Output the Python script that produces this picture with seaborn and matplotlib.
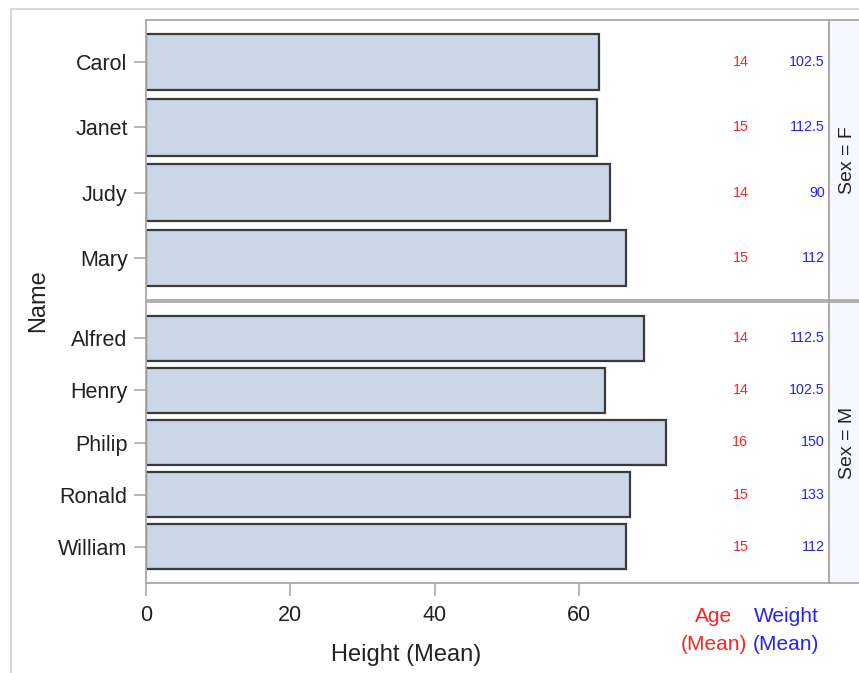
import matplotlib
matplotlib.use("Agg")
import matplotlib.pyplot as plt
import seaborn as sns
import pandas as pd
from matplotlib.patches import Rectangle

# ---- data ----
names_f = ["Carol", "Janet", "Judy", "Mary"]
height_f = [62.8, 62.5, 64.3, 66.5]
age_f = [14, 15, 14, 15]
weight_f = [102.5, 112.5, 90, 112]

names_m = ["Alfred", "Henry", "Philip", "Ronald", "William"]
height_m = [69, 63.5, 72, 67, 66.5]
age_m = [14, 14, 16, 15, 15]
weight_m = [112.5, 102.5, 150, 133, 112]

sex_labels = ["Sex = F", "Sex = M"]
x_ticks = [0, 20, 40, 60]
x_label = "Height (Mean)"
y_label = "Name"
age_header = ["Age", "(Mean)"]
weight_header = ["Weight", "(Mean)"]

# ---- style ----
plt.rcParams["font.family"] = ["Liberation Sans", "DejaVu Sans"]
W, H = 859, 673
BAR = "#CBD6E6"
EDGE = "#3A3A3A"
GRID = "#A9A9A9"
RED = "#FF2222"
BLUE = "#2222FF"
TXT = "#222222"

fig = plt.figure(figsize=(W / 100, H / 100), dpi=100)


def fx(px):
    return px / W


def fy(py):
    return 1 - py / H


# outer frame
fig.add_artist(Rectangle((fx(11), -0.05), 1.2, fy(9) + 0.05, transform=fig.transFigure,
                         fill=False, edgecolor="#D9D9D9", linewidth=1.5))

left, right = 145.7, 828.5
x_max = 94.5
panels = [
    (names_f, height_f, age_f, weight_f, 20, 300, sex_labels[0], True),
    (names_m, height_m, age_m, weight_m, 302, 583, sex_labels[1], False),
]

for names, heights, ages, weights, top, bot, strip, is_top in panels:
    ax = fig.add_axes([fx(left), fy(bot), fx(right) - fx(left), (bot - top) / H])
    df = pd.DataFrame({"Name": names, "Height": heights})
    sns.barplot(data=df, x="Height", y="Name", order=names, ax=ax, color=BAR,
                saturation=1, edgecolor=EDGE, linewidth=1.6, width=0.87, errorbar=None)
    n = len(names)
    pad = 0.643 if n == 4 else 0.70
    ax.set_xlim(0, x_max)
    ax.set_ylim(n - 1 + pad, -pad)
    ax.set_xlabel("")
    ax.set_ylabel("")
    ax.set_facecolor("white")
    for s in ax.spines.values():
        s.set_color(GRID)
        s.set_linewidth(1.3)
    ax.tick_params(axis="y", length=9, width=1.4, color="#B8B8B8", pad=4,
                   labelsize=15.5, labelcolor=TXT)
    if is_top:
        ax.tick_params(axis="x", bottom=False, labelbottom=False)
    else:
        ax.set_xticks(x_ticks)
        ax.tick_params(axis="x", length=9, width=1.4, color="#B8B8B8", pad=7,
                       labelsize=15.5, labelcolor=TXT)
    # axis-table values
    for i, (a, w) in enumerate(zip(ages, weights)):
        ax.text(83.4, i, f"{a:g}", ha="right", va="center", color=RED, fontsize=10.3)
        ax.text(94.0, i, f"{w:g}", ha="right", va="center", color=BLUE, fontsize=10.3)

    # strip on the right
    sax = fig.add_axes([fx(829), fy(bot), fx(900) - fx(829), (bot - top) / H])
    sax.set_facecolor("#F6F8FD")
    sax.set_xticks([])
    sax.set_yticks([])
    for s in sax.spines.values():
        s.set_color(GRID)
        s.set_linewidth(1.3)
    sax.text((848 - 829) / (900 - 829), 0.5, strip, rotation=90, ha="center",
             va="center", fontsize=14, color=TXT, transform=sax.transAxes)

# axis labels
fig.text(fx(38.5), fy(301), y_label, rotation=90, ha="center", va="center",
         fontsize=17, color=TXT)
fig.text(fx(406.5), fy(655), x_label, ha="center", va="center", fontsize=17, color=TXT)

# axis-table headers
for line, yy in zip(age_header, [617, 645]):
    fig.text(fx(713.5), fy(yy), line, ha="center", va="center", fontsize=15, color=RED)
for line, yy in zip(weight_header, [617, 645]):
    fig.text(fx(786), fy(yy), line, ha="center", va="center", fontsize=15, color=BLUE)

fig.savefig("out.png", dpi=100)
